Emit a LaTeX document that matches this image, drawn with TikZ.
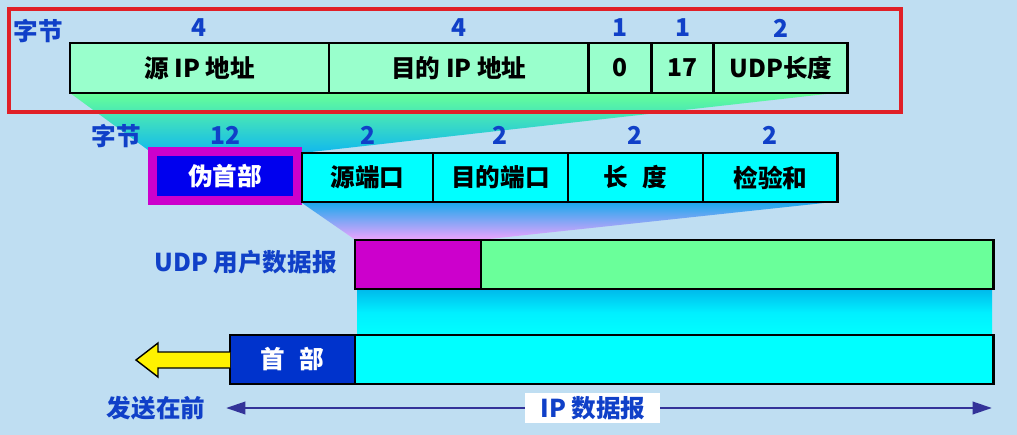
\documentclass[tikz,border=0pt]{standalone}
\usepackage{fontspec}
\setmainfont{Noto Sans CJK SC}
\usetikzlibrary{positioning,arrows.meta}
\definecolor{bgblue}{RGB}{191,222,242}
\definecolor{fieldgreen}{RGB}{153,255,204}
\definecolor{fieldcyan}{RGB}{0,255,255}
\definecolor{datagreen}{RGB}{106,255,154}
\definecolor{hdrmagenta}{RGB}{204,0,204}
\definecolor{pseudoblue}{RGB}{0,0,238}
\definecolor{iphdrblue}{RGB}{0,51,204}
\definecolor{lblblue}{RGB}{16,64,200}
\definecolor{arrowblue}{RGB}{51,51,153}
\definecolor{framered}{RGB}{224,32,40}
\newcommand{\gap}{\hspace{0.6em}}

\begin{document}
\begin{tikzpicture}[x=0.02cm,y=-0.02cm
  ,>={Triangle[length=11pt,width=7pt]}
  ,font=\bfseries\fontsize{14}{16}\selectfont
  ,node distance=0pt]
  \tikzset{field/.style={draw,line width=1.6pt,outer sep=0pt,inner sep=0pt
      ,minimum height=0.98cm}
    ,topfield/.style={field,fill=fieldgreen,minimum height=1cm}
    ,portfield/.style={field,fill=fieldcyan,minimum width=2.7cm}
    ,lbl/.style={text=lblblue,inner sep=0pt}}

  \fill[bgblue] (0,0) rectangle (1017,435);
  \useasboundingbox (0,0) rectangle (1017,435);

  % funnels
  \shade[top color={rgb,255:red,102;green,255;blue,153}
    ,bottom color={rgb,255:red,16;green,184;blue,238}]
    (70,93) -- (835,93) -- (302,153) -- (148,150) -- cycle;
  \shade[top color={rgb,255:red,30;green,168;blue,236}
    ,bottom color={rgb,255:red,245;green,163;blue,255}]
    (302,203) -- (824,203) -- (470,241) -- (357,241) -- cycle;
  \shade[top color={rgb,255:red,0;green,185;blue,235}
    ,bottom color=fieldcyan,middle color={rgb,255:red,0;green,240;blue,255}]
    (357,289) rectangle (992,336);

  % pseudo header
  \node[topfield,minimum width=5.18cm,anchor=west] (srcip) at (70,68) {源 IP 地址};
  \node[topfield,minimum width=5.2cm,right=of srcip] (dstip) {目的 IP 地址};
  \node[topfield,minimum width=1.26cm,right=of dstip] (zero) {0};
  \node[topfield,minimum width=1.24cm,right=of zero] (proto) {17};
  \node[topfield,minimum width=2.68cm,right=of proto] (udplen) {UDP长度};
  \draw[framered,line width=1.8pt] (9,9) rectangle (901,112);

  \node[lbl] (bytes1) at (38,31) {字节};
  \node[lbl] at (srcip |- 0,28) {4};
  \node[lbl] at (dstip |- 0,28) {4};
  \node[lbl] at (zero |- 0,28) {1};
  \node[lbl] at (proto |- 0,28) {1};
  \node[lbl] at (udplen |- 0,28) {2};

  % UDP header
  \node[field,draw=hdrmagenta,line width=5pt,fill=pseudoblue,text=white
    ,minimum width=2.9cm] (pseudo) at (225,176) {伪首部};
  \node[field,fill=fieldcyan,minimum width=2.62cm,anchor=west] (srcport) at (302,177.5) {源端口};
  \node[portfield,right=of srcport] (dstport) {目的端口};
  \node[portfield,right=of dstport] (len) {长\gap 度};
  \node[portfield,right=of len] (chksum) {检验和};

  \node[lbl] (bytes2) at (116,136) {字节};
  \node[lbl] at (pseudo |- 0,135) {12};
  \node[lbl] at (srcport |- 0,135) {2};
  \node[lbl] at (dstport |- 0,135) {2};
  \node[lbl] at (len |- 0,135) {2};
  \node[lbl] at (chksum |- 0,135) {2};

  % UDP datagram
  \node[field,fill=hdrmagenta,minimum width=2.52cm,anchor=west] (udphdr) at (355,264.5) {};
  \node[field,fill=datagreen,minimum width=10.26cm,right=of udphdr] (udpdata) {};
  \node[lbl,anchor=east] (udplbl) at (337,262) {UDP 用户数据报};

  % IP datagram
  \node[field,fill=iphdrblue,text=white,minimum width=2.5cm,anchor=west] (iphdr) at (230,359.5) {首\gap 部};
  \node[field,fill=fieldcyan,minimum width=12.78cm,right=of iphdr] (ipdata) {};
  \filldraw[fill=yellow,draw=black,line width=0.8pt]
    (230,352) -- (158,352) -- (158,343) -- (136,360) -- (158,377) -- (158,368) -- (230,368);

  \node[lbl] (first) at (156,408) {发送在前};
  \coordinate (ipl) at (226,408);
  \coordinate (ipr) at (992,408);
  \draw[<->,arrowblue,line width=1.5pt] (ipl) -- node[pos=0.479,fill=white
    ,text=lblblue,inner xsep=0.3cm,inner ysep=2pt] (iplbl) {IP 数据报} (ipr);

\end{tikzpicture}
\end{document}
